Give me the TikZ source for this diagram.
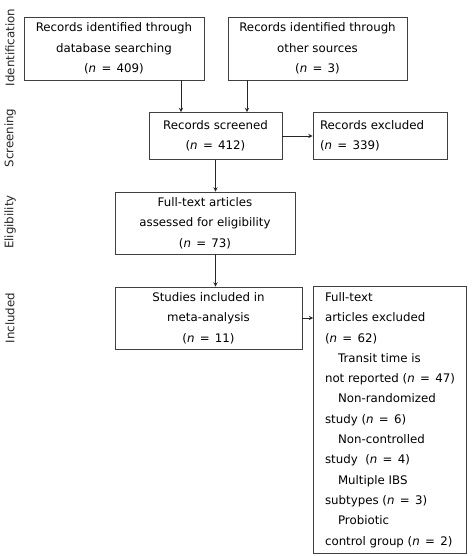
\documentclass[tikz,border=0pt]{standalone}
\usepackage{fontspec}
\setmainfont{DejaVu Sans}
\usetikzlibrary{shapes,arrows}
\newcommand{\ncount}[1]{\mbox{(\textit{n}\hspace{0.45em}=\hspace{0.45em}#1)}}

\begin{document}
\begin{tikzpicture}[thick, x=1pt, y=-1pt, font=\fontsize{11.8}{20.3}\selectfont]
\tikzstyle{vertexr}=[rectangle, draw=black!75, line width=0.9pt, inner sep=2pt, align=center]
\tikzstyle{vertexl}=[rectangle, draw=black!75, line width=0.9pt, inner ysep=2pt, align=left]
\tikzstyle{phase}=[rotate=90, inner sep=0pt, text=black!85]
\tikzstyle{drawstyle}=[line width=0.9pt, black!85, ->, >=stealth]
\useasboundingbox (0,0) rectangle (472,556);

\node[phase] (P0) at (10,47.5) {Identification};
\node[phase] (P1) at (10,138) {Screening};
\node[phase] (P2) at (10,222) {Eligibility};
\node[phase] (P3) at (10,318) {Included};

\node[vertexr, minimum width=180, minimum height=63] (G0x0) at (114,48.5) {Records identified through\\database searching\\\ncount{409}};
\node[vertexr, minimum width=179, minimum height=63] (G0x1) at (317.5,48.5) {Records identified through\\other sources\\\ncount{3}};
\node[vertexr, minimum width=133, minimum height=47] (G1x0) at (215.5,136) {Records screened\\\ncount{412}};
\node[vertexl, minimum width=134, minimum height=47, inner xsep=7pt, text width=120] (G1x1) at (380,136) {Records excluded\\\ncount{339}};
\draw[drawstyle] ([xshift=67]G0x0.south) -- ([xshift=67]G0x0.south |- G1x0.north);
\draw[drawstyle] ([xshift=-70.5]G0x1.south) -- ([xshift=-70.5]G0x1.south |- G1x0.north);
\draw[drawstyle] (G1x0) -- (G1x1);
\node[vertexr, minimum width=180, minimum height=62] (G2x0) at (205,223) {Full-text articles\\assessed for eligibility\\\ncount{73}};
\draw[drawstyle] (G1x0.south) -- (G1x0.south |- G2x0.north);
\node[vertexr, minimum width=187, minimum height=62] (G3x0) at (208.5,318) {Studies included in\\meta-analysis\\\ncount{11}};
\draw[drawstyle] (G1x0.south |- G2x0.south) -- (G1x0.south |- G3x0.north);
\node[vertexl, minimum width=153, minimum height=267, inner xsep=10.5pt, anchor=north west] (G3x1) at (313,286) {Full-text\\articles excluded\\\ncount{62}\\
\hspace*{13pt}Transit time is\\not reported \ncount{47}\\
\hspace*{13pt}Non-randomized\\study \ncount{6}\\
\hspace*{13pt}Non-controlled\\study~ \ncount{4}\\
\hspace*{13pt}Multiple IBS\\subtypes \ncount{3}\\
\hspace*{13pt}Probiotic\\control group \ncount{2}};
\draw[drawstyle] (G3x0.east) -- (G3x0.east -| G3x1.west);
\end{tikzpicture}
\end{document}
